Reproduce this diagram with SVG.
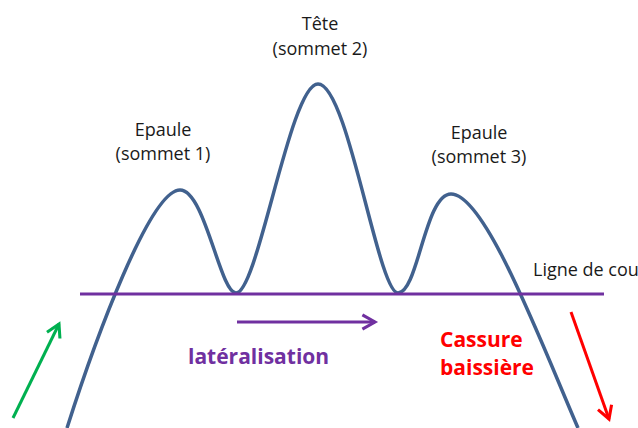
<svg xmlns="http://www.w3.org/2000/svg" width="638" height="428" viewBox="0 0 638 428">
<style>
.lbl{font-family:"Open Sans","Liberation Sans",sans-serif;font-size:18px;fill:#1a1a1a;text-anchor:middle}
.bold{font-family:"Open Sans","Liberation Sans",sans-serif;font-size:21px;font-weight:bold}
</style>
<defs>
<marker id="ag" viewBox="0 0 10 10" refX="8" refY="5" markerWidth="6" markerHeight="6" orient="auto" markerUnits="strokeWidth"><path d="M1,1 L8,5 L1,9" fill="none" stroke="#00b050" stroke-width="1.7"/></marker>
<marker id="ap" viewBox="0 0 10 10" refX="8" refY="5" markerWidth="6" markerHeight="6" orient="auto" markerUnits="strokeWidth"><path d="M1,1 L8,5 L1,9" fill="none" stroke="#7030a0" stroke-width="1.7"/></marker>
<marker id="ar" viewBox="0 0 10 10" refX="8" refY="5" markerWidth="6" markerHeight="6" orient="auto" markerUnits="strokeWidth"><path d="M1,1 L8,5 L1,9" fill="none" stroke="#ff0000" stroke-width="1.7"/></marker>
</defs>
<rect width="638" height="428" fill="#fff"/>
<g id="curve">
<path d="M67,428 C95,340 150,190 180,190 C205,190 220,293 236,293 C258,293 290,84 318,84 C348,84 378,293 398,293 C418,293 425,194 451,194 C485,194 540,340 578,428" fill="none" stroke="#41618e" stroke-width="3.5"/>
</g>
<g id="neckline">
<line x1="80" y1="294" x2="604" y2="294" stroke="#7030a0" stroke-width="3"/>
</g>
<g id="connectors">
<line x1="13" y1="418" x2="59" y2="324" stroke="#00b050" stroke-width="3" marker-end="url(#ag)"/>
<line x1="237" y1="322" x2="375" y2="322" stroke="#7030a0" stroke-width="3" marker-end="url(#ap)"/>
<line x1="571" y1="312" x2="609" y2="419" stroke="#ff0000" stroke-width="3" marker-end="url(#ar)"/>
</g>
<g id="labels">
<text class="lbl" x="163" y="136">Epaule</text>
<text class="lbl" x="163" y="160">(sommet 1)</text>
<text class="lbl" x="320" y="30">Tête</text>
<text class="lbl" x="320" y="55">(sommet 2)</text>
<text class="lbl" x="479" y="139">Epaule</text>
<text class="lbl" x="479" y="163">(sommet 3)</text>
<text class="lbl" x="533" y="276" style="text-anchor:start">Ligne de cou</text>
<text class="bold" x="188" y="364" fill="#7030a0">latéralisation</text>
<text class="bold" x="440" y="347" fill="#ff0000">Cassure</text>
<text class="bold" x="440" y="375" fill="#ff0000">baissière</text>
</g>
</svg>
